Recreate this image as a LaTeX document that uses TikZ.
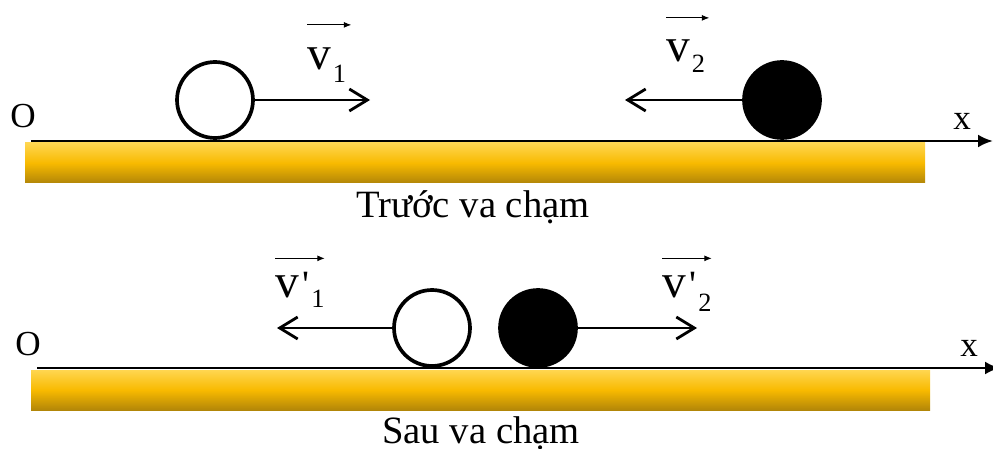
\documentclass[tikz,border=0pt]{standalone}
\usepackage{fontspec}
\setmainfont{Liberation Serif}
\usetikzlibrary{arrows.meta,positioning}
\definecolor{barTop}{RGB}{255,214,80}
\definecolor{barMid}{RGB}{248,186,0}
\definecolor{barBot}{RGB}{178,134,8}

\begin{document}
\begin{tikzpicture}[x=0.02cm,y=-0.02cm]
\tikzset{
  ball/.style={circle,draw,line width=2.1pt,minimum size=1.52cm,inner sep=0pt},
  whiteball/.style={ball,fill=white},
  blackball/.style={ball,fill=black},
  velocity/.style={-{Straight Barb[length=3.6mm,width=4.4mm,line width=1.6pt]},line width=1.7pt},
  axis/.style={-{Latex[length=3mm,width=2.6mm]},line width=1.6pt},
  overarrow/.style={-{Latex[length=1.5mm,width=1.2mm]},line width=0.6pt},
  track/.style={top color=barTop,bottom color=barBot,middle color=barMid},
  axislabel/.style={font=\fontsize{20}{20}\selectfont,inner sep=0pt},
  vlabel/.style={font=\fontsize{27}{27}\selectfont,inner sep=0pt},
  caption/.style={font=\fontsize{22}{22}\selectfont,inner sep=0pt}
}
\useasboundingbox (0,0) rectangle (993,449);
% truoc va cham
\shade[track] (25,143) rectangle (925,183);
\coordinate (o_top) at (31,141);
\coordinate (x_top) at (993,141);
\draw[axis] (o_top) -- (x_top);
\node[axislabel,anchor=base west] (n_O1) at (10,128) {O};
\node[axislabel,anchor=base west] (n_x1) at (953,130) {x};
\node[whiteball] (b_white1) at (215,100) {};
\node[blackball] (b_black1) at (782,100) {};
\coordinate (e_v1) at (370,100);
\coordinate (e_v2) at (625,100);
\draw[velocity] (b_white1) -- (e_v1);
\draw[velocity] (b_black1) -- (e_v2);
\node[vlabel,anchor=base west] (l_v1) at (307,70) {v\hspace{1pt}\raisebox{-7pt}{\fontsize{15}{15}\selectfont 1}};
\node[vlabel,anchor=base west] (l_v2) at (666,62) {v\hspace{1pt}\raisebox{-6pt}{\fontsize{15}{15}\selectfont 2}};
\draw[overarrow] ([yshift=0.46cm]l_v1.north west) -- ([yshift=0.46cm,xshift=0.1cm]l_v1.north east);
\draw[overarrow] ([yshift=0.44cm]l_v2.north west) -- ([yshift=0.44cm,xshift=0.08cm]l_v2.north east);
\node[caption,anchor=base] (c_truoc) at (473,217) {Trước va chạm};
% sau va cham
\shade[track] (31,370) rectangle (930,410);
\coordinate (o_bot) at (37,368);
\coordinate (x_bot) at (1000,368);
\draw[axis] (o_bot) -- (x_bot);
\node[axislabel,anchor=base west] (n_O2) at (15,355) {O};
\node[axislabel,anchor=base west] (n_x2) at (960,356) {x};
\node[whiteball] (b_white2) at (432,328) {};
\node[blackball] (b_black2) at (538,328) {};
\coordinate (e_w1) at (277,328);
\coordinate (e_w2) at (697,328);
\draw[velocity] (b_white2) -- (e_w1);
\draw[velocity] (b_black2) -- (e_w2);
\node[vlabel,anchor=base west] (l_w1) at (275,297) {v\hspace{2pt}{\fontsize{22}{22}\selectfont\textquotesingle}\hspace{1pt}\raisebox{-6pt}{\fontsize{15}{15}\selectfont 1}};
\node[vlabel,anchor=base west] (l_w2) at (662,297) {v\hspace{2pt}{\fontsize{22}{22}\selectfont\textquotesingle}\hspace{1pt}\raisebox{-8pt}{\fontsize{15}{15}\selectfont 2}};
\draw[overarrow] ([yshift=0.26cm]l_w1.north west) -- ([yshift=0.26cm]l_w1.north east);
\draw[overarrow] ([yshift=0.26cm]l_w2.north west) -- ([yshift=0.26cm]l_w2.north east);
\node[caption,anchor=base] (c_sau) at (481,443) {Sau va chạm};
\end{tikzpicture}
\end{document}
